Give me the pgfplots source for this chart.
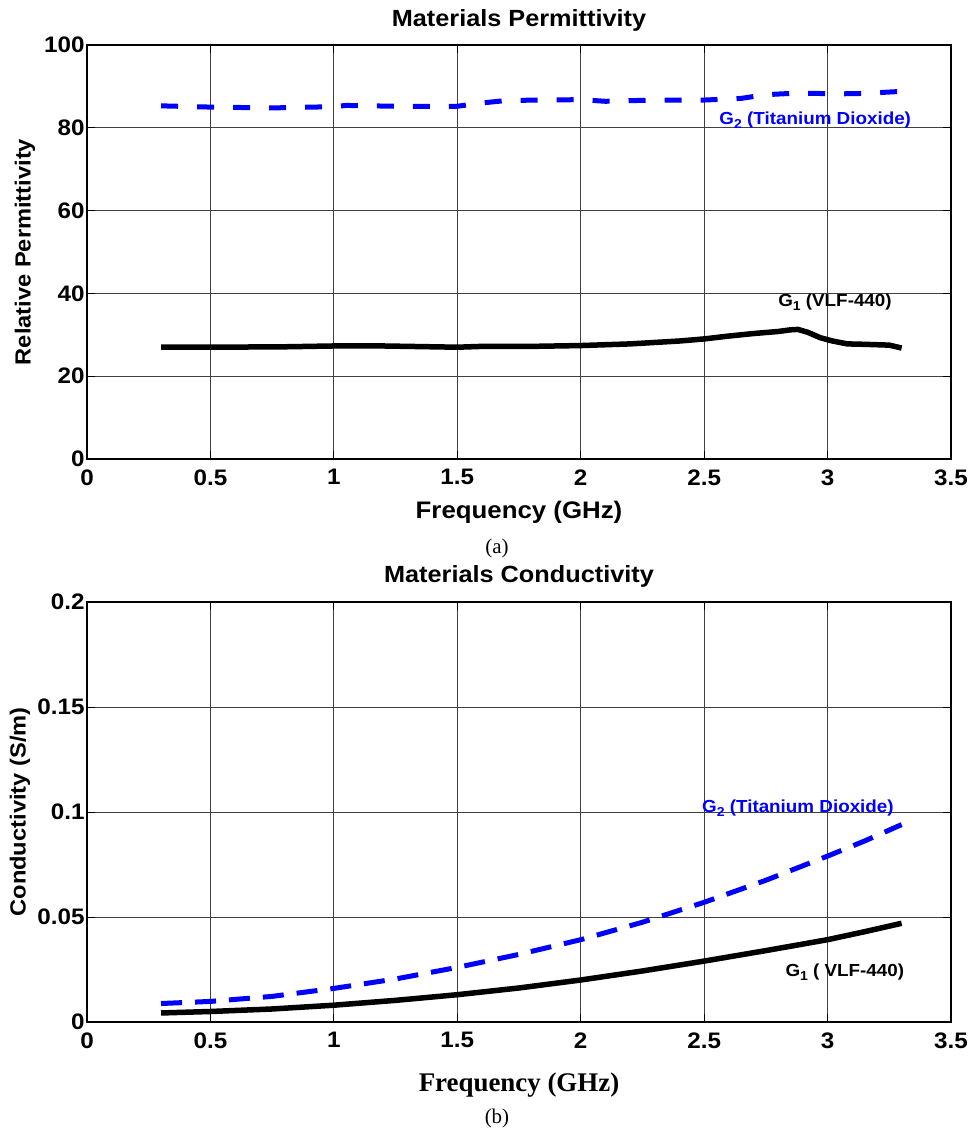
\documentclass[border=0pt]{standalone}
\usepackage{pgfplots}
\pgfplotsset{compat=1.18}
\usepackage{fontspec}
\setmainfont{Liberation Serif}
\setsansfont{Liberation Sans}
\newfontfamily\arial[FakeStretch=1.08]{Liberation Sans}
\begin{document}
\begin{tikzpicture}
\useasboundingbox (-87bp,-111bp) rectangle (886bp,1022bp);
\pgfplotsset{
 mystyle/.style={
  scale only axis, width=864bp, xmin=0, xmax=3.5,
  xtick={0,0.5,1,1.5,2,2.5,3,3.5},
  xticklabels={0,0.5,1,1.5,2,2.5,3,3.5},
  grid=major, major grid style={black!75, line width=0.9bp},
  axis line style={black, line width=1.2bp},
  tick align=inside, major tick length=8bp, tick style={black, line width=0.9bp},
  ticklabel style={font=\fontsize{22.5}{22.5}\selectfont\arial\bfseries},
  /pgf/number format/assume math mode=true,
  xticklabel style={yshift=-7bp},
  yticklabel style={xshift=1bp},
  title style={font=\fontsize{23.5}{23.5}\selectfont\arial\bfseries, at={(axis description cs:0.5,1.046)}, anchor=center},
  ylabel style={font=\fontsize{22}{22}\selectfont\arial\bfseries, anchor=center},
  clip=false,
 }
}
% top axis
\begin{axis}[mystyle, at={(0,563bp)}, height=414bp, ymin=0, ymax=100,
  ytick={0,20,40,60,80,100}, yticklabels={0,20,40,60,80,100},
  title={Materials Permittivity},
  ylabel={Relative Permittivity},
  ylabel style={at={(axis description cs:-0.0718,0.5)}},
  xlabel={Frequency (GHz)},
  xlabel style={font=\fontsize{24}{24}\selectfont\arial\bfseries, at={(axis description cs:0.5,-0.130)}, anchor=center},
]
\addplot[blue, line width=5bp, dash pattern=on 17bp off 19bp] coordinates {
(0.3,85.3) (0.5,85.0) (0.75,84.8) (1.0,85.1) (1.05,85.4) (1.25,85.2) (1.5,85.2)
(1.6,86.0) (1.7,86.6) (1.85,86.7) (2.0,86.8) (2.1,86.4) (2.3,86.7) (2.5,86.7)
(2.65,87.1) (2.75,88.0) (2.85,88.3) (2.95,88.3) (3.05,88.2) (3.15,88.3) (3.3,88.8)};
\addplot[black, line width=5.5bp] coordinates {
(0.3,27.0) (0.5,27.0) (0.8,27.1) (1.0,27.3) (1.2,27.3) (1.4,27.1) (1.5,27.0)
(1.6,27.2) (1.8,27.2) (2.0,27.4) (2.2,27.8) (2.4,28.5) (2.5,29.0) (2.6,29.7)
(2.7,30.3) (2.8,30.8) (2.85,31.2) (2.88,31.3) (2.92,30.6) (2.97,29.3) (3.02,28.5)
(3.08,27.8) (3.15,27.7) (3.2,27.6) (3.25,27.5) (3.3,26.8)};
\node[blue, font=\fontsize{17.5}{17.5}\selectfont\arial\bfseries] at (axis cs:2.95,81.9) {G\raisebox{-0.45ex}{\fontsize{13}{13}\selectfont 2} (Titanium Dioxide)};
\node[black, font=\fontsize{17.5}{17.5}\selectfont\arial\bfseries] at (axis cs:3.03,37.9) {G\raisebox{-0.45ex}{\fontsize{13}{13}\selectfont 1} (VLF-440)};
\node[font=\fontsize{21}{21}\selectfont\rmfamily] at (axis description cs:0.4745,-0.215) {(a)};
\end{axis}
% bottom axis
\begin{axis}[mystyle, at={(0,0)}, height=420bp, ymin=0, ymax=0.2,
  ytick={0,0.05,0.1,0.15,0.2}, yticklabels={0,0.05,0.1,0.15,0.2},
  title={Materials Conductivity},
  title style={at={(axis description cs:0.5,1.0476)}},
  ylabel={Conductivity (S/m)},
  ylabel style={at={(axis description cs:-0.0775,0.5)}},
  xlabel={Frequency (GHz)},
  xlabel style={font=\fontsize{27}{27}\selectfont\rmfamily\bfseries, at={(axis description cs:0.5,-0.15)}, anchor=center},
]
\addplot[blue, line width=5bp, dash pattern=on 21bp off 13bp] coordinates {
(0.3,0.0088) (0.5,0.0098) (0.75,0.0122) (1.0,0.0160) (1.25,0.0205) (1.5,0.0260)
(1.75,0.0322) (2.0,0.0392) (2.25,0.0475) (2.5,0.0570) (2.75,0.0675) (3.0,0.0790)
(3.15,0.0862) (3.3,0.0940)};
\addplot[black, line width=5.5bp] coordinates {
(0.3,0.0043) (0.5,0.0050) (0.75,0.0062) (1.0,0.0080) (1.25,0.0103) (1.5,0.0130)
(1.75,0.0162) (2.0,0.0200) (2.25,0.0243) (2.5,0.0290) (2.75,0.0340) (3.0,0.0392)
(3.15,0.0430) (3.3,0.0470)};
\node[blue, font=\fontsize{17.5}{17.5}\selectfont\arial\bfseries] at (axis cs:2.88,0.102) {G\raisebox{-0.45ex}{\fontsize{13}{13}\selectfont 2} (Titanium Dioxide)};
\node[black, font=\fontsize{17.5}{17.5}\selectfont\arial\bfseries] at (axis cs:3.07,0.0238) {G\raisebox{-0.45ex}{\fontsize{13}{13}\selectfont 1} ( VLF-440)};
\node[font=\fontsize{21}{21}\selectfont\rmfamily] at (axis description cs:0.4745,-0.2286) {(b)};
\end{axis}
\end{tikzpicture}
\end{document}
